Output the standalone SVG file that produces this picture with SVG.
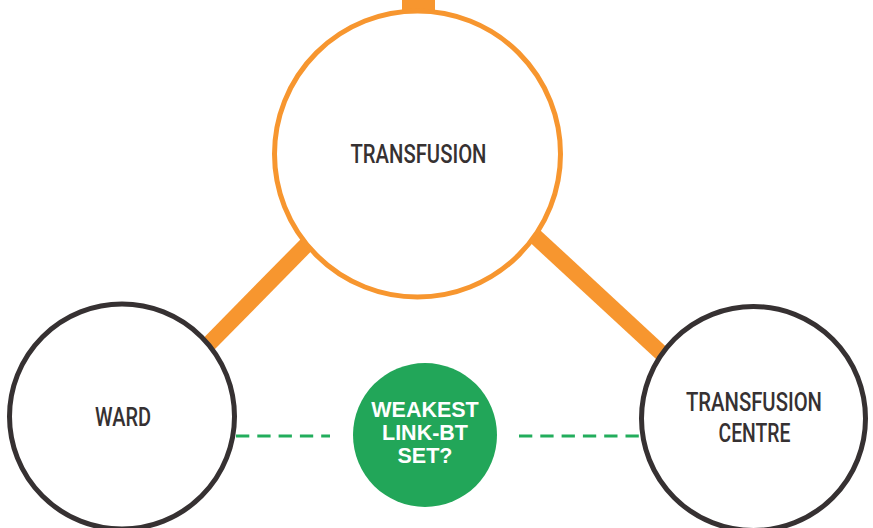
<svg xmlns="http://www.w3.org/2000/svg" width="873" height="528" viewBox="0 0 873 528">
<style>
.bar{stroke:#f7962f;stroke-width:16;fill:none}
.dash{stroke:#22ad5c;stroke-width:2.8;stroke-dasharray:13.3 8;fill:none}
.dark{fill:#fff;stroke:#363132;stroke-width:5}
.orange{fill:#fff;stroke:#f7962f;stroke-width:5}
.lbl{font-family:Roboto,"Liberation Sans",sans-serif;font-weight:500;font-size:25px;fill:#363132;text-anchor:middle}
.wl{font-family:"Liberation Sans",Arial,sans-serif;font-weight:bold;font-size:21.5px;fill:#fff;text-anchor:middle}
</style>
<rect width="873" height="528" fill="#fff"/>
<g id="connectors">
<rect x="402" y="0" width="33" height="20" fill="#f7962f"/>
<line class="bar" x1="195" y1="358" x2="315" y2="236"/>
<line class="bar" x1="525" y1="227" x2="672" y2="363"/>
<line class="dash" x1="236" y1="436" x2="330" y2="436"/>
<line class="dash" x1="519" y1="436" x2="640" y2="436"/>
</g>
<g id="transfusion">
<circle class="orange" cx="417.5" cy="154" r="143"/>
<text class="lbl" x="418.5" y="163" textLength="136" lengthAdjust="spacingAndGlyphs">TRANSFUSION</text>
</g>
<g id="ward">
<circle class="dark" cx="122" cy="416.5" r="112.5"/>
<text class="lbl" x="123" y="426" textLength="56" lengthAdjust="spacingAndGlyphs">WARD</text>
</g>
<g id="transfusion-centre">
<circle class="dark" cx="753.5" cy="418.5" r="112"/>
<text class="lbl" x="754" y="411" textLength="136" lengthAdjust="spacingAndGlyphs">TRANSFUSION</text>
<text class="lbl" x="754.5" y="441.5" textLength="72" lengthAdjust="spacingAndGlyphs">CENTRE</text>
</g>
<g id="weakest-link">
<circle cx="425" cy="435" r="72" fill="#22a659"/>
<text class="wl" x="425" y="417">WEAKEST</text>
<text class="wl" x="425" y="440">LINK-BT</text>
<text class="wl" x="425" y="463">SET?</text>
</g>
</svg>
